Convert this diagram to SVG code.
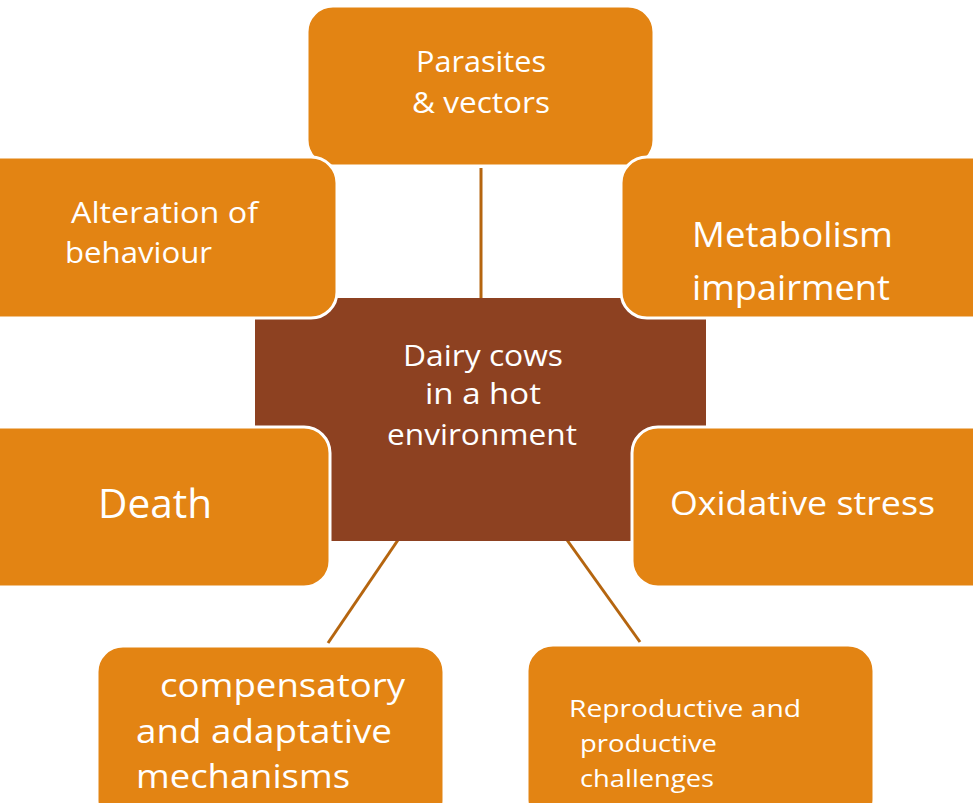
<svg xmlns="http://www.w3.org/2000/svg" width="973" height="803" viewBox="0 0 973 803">
<style>
.box{fill:#E38413;stroke:#ffffff;stroke-width:3}
.center{fill:#8D4121}
.t{fill:#ffffff;font-family:"Open Sans","Liberation Sans",sans-serif}
.c{stroke:#B5650F;stroke-width:3;fill:none}
</style>
<rect width="973" height="803" fill="#ffffff"/>
<g id="connectors">
<line class="c" x1="481" y1="168" x2="481" y2="300"/>
<line class="c" x1="398" y1="540" x2="328" y2="643"/>
<line class="c" x1="567" y1="540" x2="640" y2="642"/>
</g>
<g id="center">
<rect class="center" x="255" y="298" width="451" height="243" rx="10"/>
<text class="t" font-size="30" text-anchor="middle"><tspan x="483" y="366" textLength="160" lengthAdjust="spacingAndGlyphs">Dairy cows</tspan><tspan x="483" y="404" textLength="116" lengthAdjust="spacingAndGlyphs">in a hot</tspan><tspan x="482" y="445" textLength="190" lengthAdjust="spacingAndGlyphs">environment</tspan></text>
</g>
<g id="parasites">
<rect class="box" x="307" y="6" width="347" height="160" rx="26"/>
<text class="t" font-size="30" text-anchor="middle"><tspan x="481" y="72" textLength="130" lengthAdjust="spacingAndGlyphs">Parasites</tspan><tspan x="481" y="113" textLength="138" lengthAdjust="spacingAndGlyphs">&amp; vectors</tspan></text>
</g>
<g id="alteration">
<rect class="box" x="-30" y="157" width="367" height="161" rx="26"/>
<text class="t" font-size="29"><tspan x="71" y="223" textLength="187" lengthAdjust="spacingAndGlyphs">Alteration of</tspan><tspan x="65" y="263" textLength="147" lengthAdjust="spacingAndGlyphs">behaviour</tspan></text>
</g>
<g id="metabolism">
<rect class="box" x="621" y="157" width="380" height="161" rx="26"/>
<text class="t" font-size="35"><tspan x="692" y="247" textLength="201" lengthAdjust="spacingAndGlyphs">Metabolism</tspan><tspan x="692" y="300" textLength="198" lengthAdjust="spacingAndGlyphs">impairment</tspan></text>
</g>
<g id="death">
<rect class="box" x="-30" y="427" width="360" height="160" rx="26"/>
<text class="t" font-size="40" x="98" y="518" textLength="114" lengthAdjust="spacingAndGlyphs">Death</text>
</g>
<g id="oxidative">
<rect class="box" x="632" y="427" width="370" height="160" rx="26"/>
<text class="t" font-size="33" x="670" y="515" textLength="265" lengthAdjust="spacingAndGlyphs">Oxidative stress</text>
</g>
<g id="compensatory">
<rect class="box" x="97" y="646" width="347" height="180" rx="26"/>
<text class="t" font-size="32"><tspan x="160" y="697" textLength="245" lengthAdjust="spacingAndGlyphs">compensatory</tspan><tspan x="136" y="743" textLength="256" lengthAdjust="spacingAndGlyphs">and adaptative</tspan><tspan x="136" y="788" textLength="214" lengthAdjust="spacingAndGlyphs">mechanisms</tspan></text>
</g>
<g id="reproductive">
<rect class="box" x="527" y="645" width="347" height="180" rx="26"/>
<text class="t" font-size="24"><tspan x="569" y="717" textLength="232" lengthAdjust="spacingAndGlyphs">Reproductive  and</tspan><tspan x="580" y="752" textLength="137" lengthAdjust="spacingAndGlyphs">productive</tspan><tspan x="580" y="787" textLength="134" lengthAdjust="spacingAndGlyphs">challenges</tspan></text>
</g>
</svg>
